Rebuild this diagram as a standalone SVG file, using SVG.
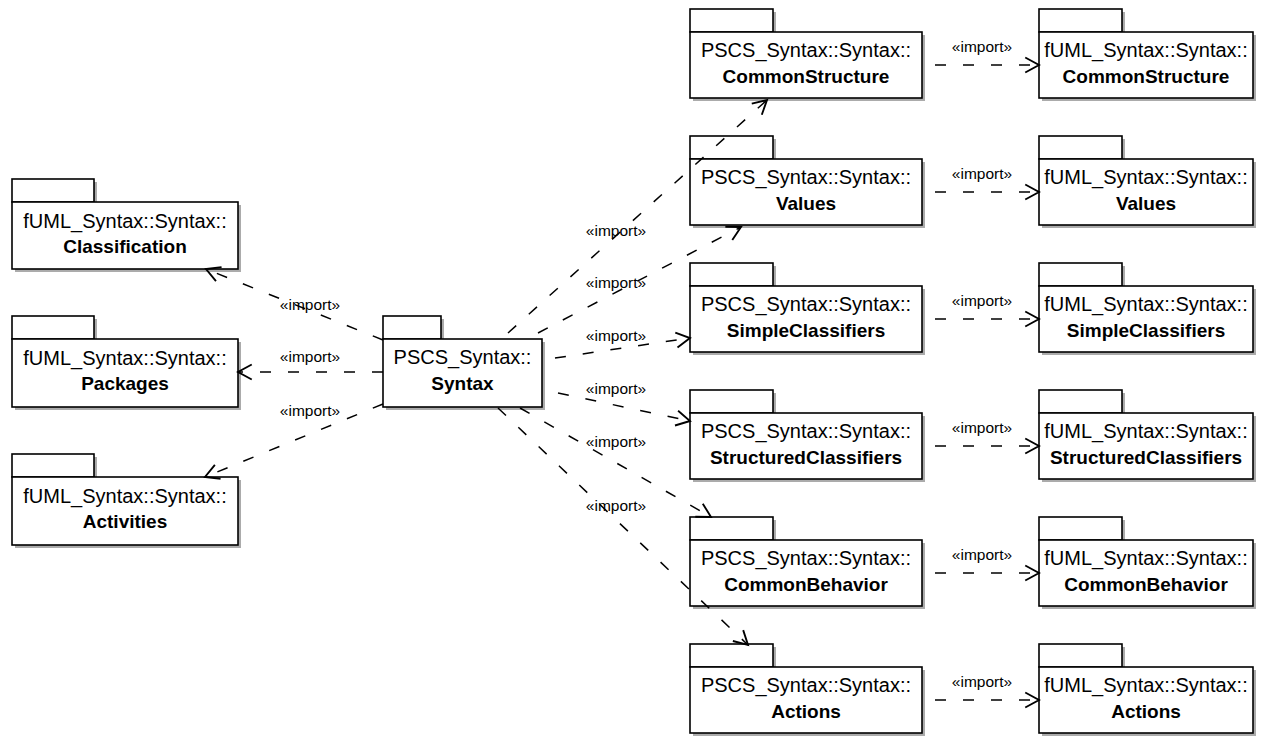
<svg xmlns="http://www.w3.org/2000/svg" width="1274" height="736" viewBox="0 0 1274 736">
<style>
.sh{fill:#ababab;stroke:none}
.bx{fill:#fff;stroke:#000;stroke-width:1.6}
.t1{font-family:"Liberation Sans",Arial,sans-serif;font-size:20px;text-anchor:middle;fill:#000}
.t2{font-family:"Liberation Sans",Arial,sans-serif;font-size:19px;font-weight:bold;text-anchor:middle;fill:#000}
.lb{font-family:"Liberation Sans",Arial,sans-serif;font-size:15.5px;text-anchor:middle;fill:#000}
.cn{fill:none;stroke:#000;stroke-width:1.5;stroke-dasharray:11,17;marker-end:url(#arr)}
</style>
<defs>
<marker id="arr" markerUnits="userSpaceOnUse" markerWidth="20" markerHeight="20" refX="0" refY="0" viewBox="-12 -8 14 16" orient="auto" overflow="visible">
<path d="M-11,-6 L0,0 L-11,6" fill="none" stroke="#000" stroke-width="1.5" stroke-dasharray="none"/>
</marker>
</defs>

<g id="fuml-classification">
<rect class="sh" x="15" y="182" width="82" height="23"/><rect class="sh" x="15" y="205" width="226" height="67"/>
<rect class="bx" x="12" y="179" width="82" height="23"/><rect class="bx" x="12" y="202" width="226" height="67"/>
<text class="t1" x="125" y="228">fUML_Syntax::Syntax::</text><text class="t2" x="125" y="253">Classification</text>
</g>
<g id="fuml-packages">
<rect class="sh" x="15" y="319" width="82" height="23"/><rect class="sh" x="15" y="342" width="226" height="68"/>
<rect class="bx" x="12" y="316" width="82" height="23"/><rect class="bx" x="12" y="339" width="226" height="68"/>
<text class="t1" x="125" y="365">fUML_Syntax::Syntax::</text><text class="t2" x="125" y="390">Packages</text>
</g>
<g id="fuml-activities">
<rect class="sh" x="15" y="457" width="82" height="23"/><rect class="sh" x="15" y="480" width="226" height="68"/>
<rect class="bx" x="12" y="454" width="82" height="23"/><rect class="bx" x="12" y="477" width="226" height="68"/>
<text class="t1" x="125" y="503">fUML_Syntax::Syntax::</text><text class="t2" x="125" y="528">Activities</text>
</g>
<g id="pscs-syntax">
<rect class="sh" x="386" y="319" width="58" height="23"/><rect class="sh" x="386" y="342" width="159" height="68"/>
<rect class="bx" x="383" y="316" width="58" height="23"/><rect class="bx" x="383" y="339" width="159" height="68"/>
<text class="t1" x="462.5" y="364">PSCS_Syntax::</text><text class="t2" x="462.5" y="390">Syntax</text>
</g>

<g id="pscs-commonstructure">
<rect class="sh" x="693" y="12" width="83" height="23"/><rect class="sh" x="693" y="35" width="232" height="66"/>
<rect class="bx" x="690" y="9" width="83" height="23"/><rect class="bx" x="690" y="32" width="232" height="66"/>
<text class="t1" x="806" y="57">PSCS_Syntax::Syntax::</text><text class="t2" x="806" y="83">CommonStructure</text>
</g>
<g id="pscs-values">
<rect class="sh" x="693" y="139" width="83" height="23"/><rect class="sh" x="693" y="162" width="232" height="66"/>
<rect class="bx" x="690" y="136" width="83" height="23"/><rect class="bx" x="690" y="159" width="232" height="66"/>
<text class="t1" x="806" y="184">PSCS_Syntax::Syntax::</text><text class="t2" x="806" y="210">Values</text>
</g>
<g id="pscs-simpleclassifiers">
<rect class="sh" x="693" y="266" width="83" height="23"/><rect class="sh" x="693" y="289" width="232" height="66"/>
<rect class="bx" x="690" y="263" width="83" height="23"/><rect class="bx" x="690" y="286" width="232" height="66"/>
<text class="t1" x="806" y="311">PSCS_Syntax::Syntax::</text><text class="t2" x="806" y="337">SimpleClassifiers</text>
</g>
<g id="pscs-structuredclassifiers">
<rect class="sh" x="693" y="393" width="83" height="23"/><rect class="sh" x="693" y="416" width="232" height="66"/>
<rect class="bx" x="690" y="390" width="83" height="23"/><rect class="bx" x="690" y="413" width="232" height="66"/>
<text class="t1" x="806" y="438">PSCS_Syntax::Syntax::</text><text class="t2" x="806" y="464">StructuredClassifiers</text>
</g>
<g id="pscs-commonbehavior">
<rect class="sh" x="693" y="520" width="83" height="23"/><rect class="sh" x="693" y="543" width="232" height="66"/>
<rect class="bx" x="690" y="517" width="83" height="23"/><rect class="bx" x="690" y="540" width="232" height="66"/>
<text class="t1" x="806" y="565">PSCS_Syntax::Syntax::</text><text class="t2" x="806" y="591">CommonBehavior</text>
</g>
<g id="pscs-actions">
<rect class="sh" x="693" y="647" width="83" height="23"/><rect class="sh" x="693" y="670" width="232" height="66"/>
<rect class="bx" x="690" y="644" width="83" height="23"/><rect class="bx" x="690" y="667" width="232" height="66"/>
<text class="t1" x="806" y="692">PSCS_Syntax::Syntax::</text><text class="t2" x="806" y="718">Actions</text>
</g>

<g id="fuml-commonstructure">
<rect class="sh" x="1042" y="12" width="83" height="23"/><rect class="sh" x="1042" y="35" width="214" height="66"/>
<rect class="bx" x="1039" y="9" width="83" height="23"/><rect class="bx" x="1039" y="32" width="214" height="66"/>
<text class="t1" x="1146" y="57">fUML_Syntax::Syntax::</text><text class="t2" x="1146" y="83">CommonStructure</text>
</g>
<g id="fuml-values">
<rect class="sh" x="1042" y="139" width="83" height="23"/><rect class="sh" x="1042" y="162" width="214" height="66"/>
<rect class="bx" x="1039" y="136" width="83" height="23"/><rect class="bx" x="1039" y="159" width="214" height="66"/>
<text class="t1" x="1146" y="184">fUML_Syntax::Syntax::</text><text class="t2" x="1146" y="210">Values</text>
</g>
<g id="fuml-simpleclassifiers">
<rect class="sh" x="1042" y="266" width="83" height="23"/><rect class="sh" x="1042" y="289" width="214" height="66"/>
<rect class="bx" x="1039" y="263" width="83" height="23"/><rect class="bx" x="1039" y="286" width="214" height="66"/>
<text class="t1" x="1146" y="311">fUML_Syntax::Syntax::</text><text class="t2" x="1146" y="337">SimpleClassifiers</text>
</g>
<g id="fuml-structuredclassifiers">
<rect class="sh" x="1042" y="393" width="83" height="23"/><rect class="sh" x="1042" y="416" width="214" height="66"/>
<rect class="bx" x="1039" y="390" width="83" height="23"/><rect class="bx" x="1039" y="413" width="214" height="66"/>
<text class="t1" x="1146" y="438">fUML_Syntax::Syntax::</text><text class="t2" x="1146" y="464">StructuredClassifiers</text>
</g>
<g id="fuml-commonbehavior">
<rect class="sh" x="1042" y="520" width="83" height="23"/><rect class="sh" x="1042" y="543" width="214" height="66"/>
<rect class="bx" x="1039" y="517" width="83" height="23"/><rect class="bx" x="1039" y="540" width="214" height="66"/>
<text class="t1" x="1146" y="565">fUML_Syntax::Syntax::</text><text class="t2" x="1146" y="591">CommonBehavior</text>
</g>
<g id="fuml-actions">
<rect class="sh" x="1042" y="647" width="83" height="23"/><rect class="sh" x="1042" y="670" width="214" height="66"/>
<rect class="bx" x="1039" y="644" width="83" height="23"/><rect class="bx" x="1039" y="667" width="214" height="66"/>
<text class="t1" x="1146" y="692">fUML_Syntax::Syntax::</text><text class="t2" x="1146" y="718">Actions</text>
</g>

<g id="connectors">
<path class="cn" d="M383,340 L206,269"/>
<path class="cn" d="M383,372 L238,372"/>
<path class="cn" d="M383,404 L205,477"/>
<path class="cn" d="M508,333 L767,100"/>
<path class="cn" d="M538,333 L741,227"/>
<path class="cn" d="M555,358 L690,338"/>
<path class="cn" d="M558,393 L690,421"/>
<path class="cn" d="M520,408 L711,517"/>
<path class="cn" d="M498,408 L748,645"/>
<path class="cn" d="M935,65 L1039,65"/>
<path class="cn" d="M935,192 L1039,192"/>
<path class="cn" d="M935,319 L1039,319"/>
<path class="cn" d="M935,446 L1039,446"/>
<path class="cn" d="M935,573 L1039,573"/>
<path class="cn" d="M935,700 L1039,700"/>
<text class="lb" x="310" y="310">«import»</text>
<text class="lb" x="310" y="362">«import»</text>
<text class="lb" x="310" y="416">«import»</text>
<text class="lb" x="616" y="236">«import»</text>
<text class="lb" x="616" y="288">«import»</text>
<text class="lb" x="616" y="341">«import»</text>
<text class="lb" x="616" y="394">«import»</text>
<text class="lb" x="616" y="447">«import»</text>
<text class="lb" x="616" y="511">«import»</text>
<text class="lb" x="982" y="52">«import»</text>
<text class="lb" x="982" y="179">«import»</text>
<text class="lb" x="982" y="306">«import»</text>
<text class="lb" x="982" y="433">«import»</text>
<text class="lb" x="982" y="560">«import»</text>
<text class="lb" x="982" y="687">«import»</text>
</g>
</svg>
